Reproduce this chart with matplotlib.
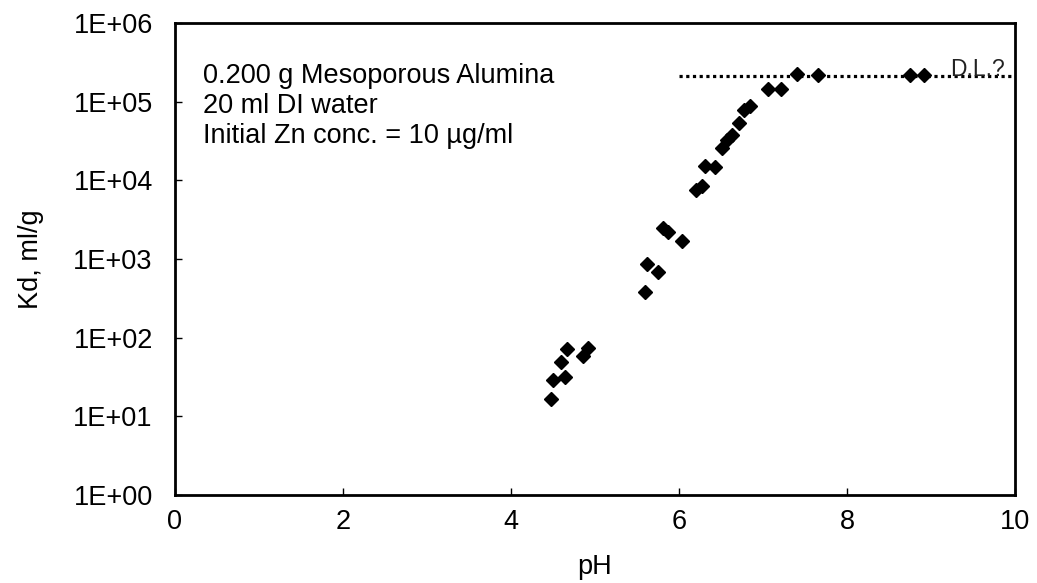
import matplotlib.pyplot as plt
from matplotlib.ticker import FuncFormatter, FixedLocator

plt.rcParams['font.family'] = ['Liberation Sans', 'DejaVu Sans']

# pH and Kd (ml/g)
ph = [4.48, 4.50, 4.64, 4.60, 4.67, 4.86, 4.92,
      5.59, 5.62, 5.75, 5.81, 5.87, 6.03,
      6.20, 6.27, 6.31, 6.43, 6.51, 6.57, 6.63, 6.71, 6.77, 6.85,
      7.06, 7.22, 7.40, 7.66, 8.75, 8.92]
kd = [16.6, 29, 31.6, 48.6, 71, 58, 73,
      384, 857, 689, 2455, 2224, 1694,
      7500, 8500, 15200, 14900, 25500, 32500, 37700, 54000, 78000, 88000,
      144000, 144000, 225000, 218000, 218000, 218000]

# detection limit line
dl_ph = [6.0, 10.0]
dl_kd = [2.1e5, 2.1e5]

xticks = [0, 2, 4, 6, 8, 10]
yticks = [1e0, 1e1, 1e2, 1e3, 1e4, 1e5, 1e6]

fs = 19.5

fig = plt.figure(figsize=(10.37, 5.83), dpi=100)
ax = fig.add_axes([175 / 1037, 1 - 495 / 583, 840 / 1037, 472 / 583])

ax.plot(dl_ph, dl_kd, color='black', linewidth=2.3, linestyle=(0, (1, 1.1)),
        dash_capstyle='butt', zorder=2)
ax.plot(ph, kd, linestyle='none', marker='D', markersize=7.6,
        color='black', zorder=3)

ax.set_yscale('log')
ax.set_xlim(0, 10)
ax.set_ylim(1e0, 1e6)
ax.xaxis.set_major_locator(FixedLocator(xticks))
ax.yaxis.set_major_locator(FixedLocator(yticks))
ax.yaxis.set_minor_locator(FixedLocator([]))
ax.yaxis.set_major_formatter(FuncFormatter(lambda v, p: f"{v:.0E}"))

ax.tick_params(direction='in', length=5, width=1, labelsize=fs, color='black')
ax.tick_params(axis='x', pad=10)
ax.tick_params(axis='y', pad=16)
for s in ax.spines.values():
    s.set_linewidth(2)

ax.set_xlabel("pH", fontsize=fs, labelpad=14)
ax.set_ylabel("Kd, ml/g", fontsize=fs, labelpad=21)

ax.text(0.033, 0.915, "0.200 g Mesoporous Alumina\n20 ml DI water\nInitial Zn conc. = 10 µg/ml",
        transform=ax.transAxes, fontsize=fs, va='top', ha='left', linespacing=1.2)
ax.text(0.988, 0.888, "D.L.?", transform=ax.transAxes, fontsize=16.5,
        ha='right', va='baseline', color='#222222')

fig.savefig("out.png", dpi=100)
